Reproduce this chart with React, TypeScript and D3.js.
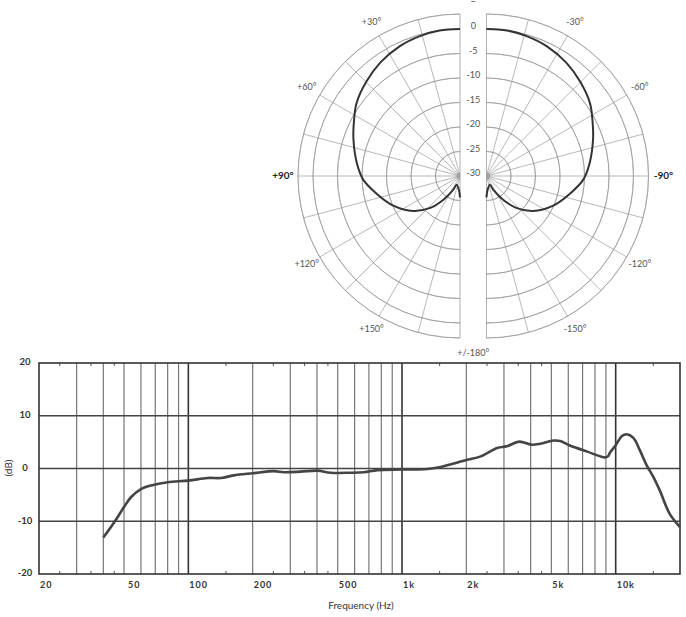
import * as d3 from "d3";

// frequency response
const FREQ_HZ = [
  40, 45, 50, 54, 60, 67, 80, 100, 123, 142, 163, 200, 252, 280, 335, 402, 463,
  575, 663, 767, 1000, 1313, 1516, 2000, 2335, 2791, 3090, 3536, 4059, 4441,
  5138, 5500, 6063, 7360, 8900, 9200, 9400, 10000, 10670, 11260, 12100, 13000,
  13970, 15000, 16100, 17900, 20000,
];
const RESPONSE_DB = [
  -13.1, -10.2, -7.3, -5.4, -3.9, -3.2, -2.6, -2.3, -1.8, -1.8, -1.3, -0.9,
  -0.5, -0.7, -0.6, -0.4, -0.8, -0.8, -0.7, -0.3, -0.2, -0.1, 0.3, 1.6, 2.3,
  3.9, 4.2, 5.1, 4.5, 4.7, 5.3, 5.2, 4.4, 3.2, 2.1, 2.3, 3.0, 4.4, 6.1, 6.5,
  5.8, 3.4, 0.6, -1.6, -4.2, -8.6, -11.1,
];

const X_TICKS = [20, 50, 100, 200, 500, 1000, 2000, 5000, 10000];
const X_TICK_LABELS = ["20", "50", "100", "200", "500", "1k", "2k", "5k", "10k"];
const MINOR_TICKS = [25, 35, 45, 150, 250, 350, 450, 1500, 2500, 3500, 4500, 15000];
const Y_TICKS = [20, 10, 0, -10, -20];

// polar pattern, one half (mirrored on the other side)
const POLAR_DEG = [0, 8, 16, 25, 35, 45, 55, 63, 71, 83, 92, 102, 114, 127, 137, 145, 154, 159, 177, 180];
const POLAR_DB = [
  0, 0, -0.3, -0.8, -1.7, -2.9, -4.2, -5.7, -7.0, -8.8, -10.2, -12.6, -15.1,
  -18.1, -21.1, -24.1, -26.9, -28.1, -26.9, -25.6,
];
const RING_DB = [-25, -20, -15, -10, -5, 0];
const RING_LABELS_DB = [0, -5, -10, -15, -20, -25, -30];
const ANGLE_TICKS = [30, 60, 90, 120, 150];
const RAY_DEG = [15, 30, 45, 60, 75, 90, 105, 120, 135, 150, 165];

const font = "Lato, 'Open Sans', sans-serif";

function PolarHalf({ cx, cy, side }: { cx: number; cy: number; side: number }) {
  const r = d3.scaleLinear().domain([-30, 0]).range([0, 147]);
  const outer = 162;
  const rad = (deg: number) => (deg * Math.PI) / 180;
  const arc = (radius: number) =>
    d3
      .arc()
      .innerRadius(radius)
      .outerRadius(radius)
      .startAngle(side < 0 ? -Math.PI : 0)
      .endAngle(side < 0 ? 0 : Math.PI)({} as any) as string;

  const curve = d3
    .lineRadial<number>()
    .angle((d) => side * rad(POLAR_DEG[d]))
    .radius((d) => r(POLAR_DB[d]))
    .curve(d3.curveCatmullRom)(POLAR_DEG.map((_, i) => i)) as string;

  return (
    <g transform={`translate(${cx},${cy})`}>
      {[...RING_DB.map((v) => r(v)), outer].map((rr, i) => (
        <path key={"ring" + i} d={arc(rr)} fill="none" stroke="#9a9a9a" strokeWidth={0.7} />
      ))}
      <path d={arc(3)} fill="none" stroke="#9a9a9a" strokeWidth={0.7} />
      {RAY_DEG.map((a) => (
        <line
          key={"ray" + a}
          x1={0}
          y1={0}
          x2={side * outer * Math.sin(rad(a))}
          y2={-outer * Math.cos(rad(a))}
          stroke="#9a9a9a"
          strokeWidth={0.7}
        />
      ))}
      <line x1={0} y1={-outer} x2={0} y2={outer} stroke="#9a9a9a" strokeWidth={0.8} />
      <path d={curve} fill="none" stroke="#333" strokeWidth={2} strokeLinejoin="round" />
      {ANGLE_TICKS.map((a) => (
        <text
          key={"lab" + a}
          x={side * 177 * Math.sin(rad(a))}
          y={-177 * Math.cos(rad(a))}
          textAnchor="middle"
          dominantBaseline="middle"
          fontSize={a === 90 ? 10 : 9}
          fontWeight={a === 90 ? 700 : 400}
          fill={a === 90 ? "#222" : "#555"}
        >
          {(side < 0 ? "+" : "-") + a + "°"}
        </text>
      ))}
    </g>
  );
}

export default function App() {
  const width = 686;
  const height = 617;
  const plot = { left: 39, right: 680, top: 363, bottom: 574 };

  const x = d3.scaleLog().domain([20, 20000]).range([plot.left, plot.right]);
  const y = d3.scaleLinear().domain([-20, 20]).range([plot.bottom, plot.top]);

  const gridFreqs = x.ticks().filter((f) => f > 20 && f < 20000);
  const isDecade = (f: number) => Math.abs(Math.log10(f) - Math.round(Math.log10(f))) < 1e-6;

  const line = d3
    .line<number>()
    .x((i) => x(FREQ_HZ[i]))
    .y((i) => y(RESPONSE_DB[i]))
    .curve(d3.curveCatmullRom)(FREQ_HZ.map((_, i) => i)) as string;

  const cy = 176;
  const leftCx = 460;
  const rightCx = 486.5;
  const gapX = (leftCx + rightCx) / 2;
  const ringR = d3.scaleLinear().domain([-30, 0]).range([0, 147]);

  return (
    <svg
      width={width}
      height={height}
      style={{ position: "absolute", left: 0, top: 0, background: "#fff" }}
      fontFamily={font}
    >
      <defs>
        <clipPath id="polarClip">
          <rect x={0} y={0} width={width} height={356} />
        </clipPath>
      </defs>

      <g clipPath="url(#polarClip)">
        <PolarHalf cx={leftCx} cy={cy} side={-1} />
        <PolarHalf cx={rightCx} cy={cy} side={1} />
        {RING_LABELS_DB.map((v) => (
          <text
            key={"db" + v}
            x={gapX}
            y={cy - ringR(v) - 2}
            textAnchor="middle"
            dominantBaseline="middle"
            fontSize={9}
            fill="#555"
          >
            {v === 0 ? "0" : "-" + Math.abs(v)}
          </text>
        ))}
        {/* remnant of the cut-off 0° label at the top edge */}
        <line x1={gapX - 2} x2={gapX + 2} y1={1.5} y2={1.5} stroke="#777" strokeWidth={1} />
        <text x={gapX} y={356} textAnchor="middle" fontSize={9} fill="#555">
          +/-180°
        </text>
      </g>

      {/* frequency response */}
      {gridFreqs.map((f) => (
        <line
          key={"gx" + f}
          x1={x(f)}
          x2={x(f)}
          y1={plot.top}
          y2={plot.bottom}
          stroke={isDecade(f) ? "#333" : "#777"}
          strokeWidth={isDecade(f) ? 1.6 : 1.2}
        />
      ))}
      {MINOR_TICKS.map((f) => (
        <g key={"mt" + f}>
          <line x1={x(f)} x2={x(f)} y1={plot.top} y2={plot.top + 3} stroke="#555" strokeWidth={1} />
          <line x1={x(f)} x2={x(f)} y1={plot.bottom} y2={plot.bottom - 3} stroke="#555" strokeWidth={1} />
        </g>
      ))}
      {Y_TICKS.filter((v) => v !== 20 && v !== -20).map((v) => (
        <line
          key={"gy" + v}
          x1={plot.left}
          x2={plot.right}
          y1={y(v)}
          y2={y(v)}
          stroke="#444"
          strokeWidth={1.3}
        />
      ))}
      <rect
        x={plot.left}
        y={plot.top}
        width={plot.right - plot.left}
        height={plot.bottom - plot.top}
        fill="none"
        stroke="#333"
        strokeWidth={1.6}
      />
      <path d={line} fill="none" stroke="#444" strokeWidth={2.6} strokeLinejoin="round" />

      {Y_TICKS.map((v) => (
        <text
          key={"yl" + v}
          x={25}
          y={y(v)}
          textAnchor="middle"
          dominantBaseline="middle"
          fontSize={9.5}
          fontWeight={700}
          fill="#333"
        >
          {v}
        </text>
      ))}
      {X_TICKS.map((f, i) => (
        <text
          key={"xl" + f}
          x={x(f) + (f === 50 ? 4 : 1)}
          y={588}
          textAnchor="start"
          fontSize={9}
          fontWeight={700}
          letterSpacing={1}
          fill="#333"
        >
          {X_TICK_LABELS[i]}
        </text>
      ))}
      <text x={361} y={609} textAnchor="middle" fontSize={10} fill="#333">
        Frequency (Hz)
      </text>
      <text
        transform={`translate(12,468) rotate(-90)`}
        textAnchor="middle"
        fontSize={10}
        fill="#333"
      >
        (dB)
      </text>
    </svg>
  );
}
